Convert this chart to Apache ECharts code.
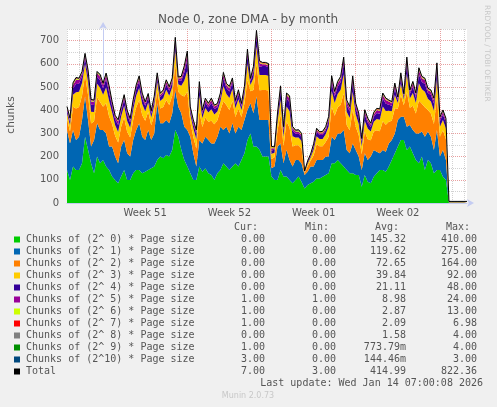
<!DOCTYPE html>
<html><head><meta charset="utf-8">
<script src="https://cdn.jsdelivr.net/npm/echarts@6/dist/echarts.min.js"></script>
<style>html,body{margin:0;padding:0;background:#f0f0f0}#c{width:497px;height:407px}</style>
</head><body><div id="c"></div><script>
// x positions: hours relative to Monday 00:00 of week 51, one sample every 6 hours
const startHour = -72, stepHours = 6;
const weekHours = [84, 252, 420, 588];
const weekLabels = ['Week 51', 'Week 52', 'Week 01', 'Week 02'];
const yTickValues = [0, 100, 200, 300, 400, 500, 600, 700];

const seriesNames = [
  'Chunks of (2^ 0) * Page size','Chunks of (2^ 1) * Page size','Chunks of (2^ 2) * Page size',
  'Chunks of (2^ 3) * Page size','Chunks of (2^ 4) * Page size','Chunks of (2^ 5) * Page size',
  'Chunks of (2^ 6) * Page size','Chunks of (2^ 7) * Page size','Chunks of (2^ 8) * Page size',
  'Chunks of (2^ 9) * Page size','Chunks of (2^10) * Page size'];
const seriesColors = ['#00CC00','#0066B3','#FF8000','#FFCC00','#330099','#990099','#CCFF00','#FF0000','#808080','#008F00','#00487D'];
const curVals = ['0.00','0.00','0.00','0.00','0.00','1.00','1.00','1.00','0.00','1.00','3.00','7.00'];
const minVals = ['0.00','0.00','0.00','0.00','0.00','1.00','0.00','0.00','0.00','0.00','0.00','3.00'];
const avgVals = ['145.32','119.62','72.65','39.84','21.11','8.98','2.87','2.09','1.58','773.79m','144.46m','414.99'];
const maxVals = ['410.00','275.00','164.00','92.00','48.00','24.00','13.00','6.98','4.00','4.00','3.00','822.36'];

const p0 = [142,99,157,142,142,171,286,229,171,128, 200,171,185,157,142,114,99,85,114,142,
  99,99,128,142,142,128,135,142,150,157, 185,200,193,207,200,229,315,286,229,185,
  157,128,99,99,157,135,150,128,121,99, 128,142,171,157,142,157,171,157,185,214,
  272,300,243,243,229,200,200,200,114,99, 99,142,114,114,99,85,99,114,90,63,
  78,85,92,106,106,113,121,128,171,171, 185,171,157,142,128,128,121,121,70,121,
  92,85,113,128,142,142,135,157,185,214, 243,272,272,228,243,214,185,171,200,142,
  185,171,128,142,142,113,99, 0,0,0,0,0,0,0];
const p1 = [173,158,158,130,144,187,173,129,72,144, 144,144,130,143,101,129,101,86,129,130,
  115,101,144,173,202,158,137,173,122,143, 245,144,151,151,144,158,172,129,158,144,
  158,158,115,58,115,122,136,144,136,158, 158,187,144,172,158,187,129,172,130,144,
  129,130,144,216,129,158,158,158,36,58, 144,115,57,115,86,72,86,71,80,58,
  57,72,65,79,79,72,79,72,115,101, 115,129,158,86,86,129,107,79,72,93,
  93,115,115,93,72,86,86,100,87,86, 115,100,100,101,93,101,115,129,108,144,
  123,115,100,173,58,115,86, 0,0,0,0,0,0,0];
const p2 = [47,51,100,135,128,104,93,108,100,80, 112,120,100,130,130,97,90,90,86,97,
  93,82,86,97,100,93,82,78,63,79, 55,63,70,86,78,75,112,64,78,130,
  164,63,71,78,125,71,82,78,97,82, 71,71,124,93,101,97,71,78,56,71,
  130,52,100,142,128,129,129,127,40,40, 71,124,75,123,139,86,64,64,64,7,
  22,26,48,68,60,60,63,86,130,104, 112,124,158,108,100,146,101,93,68,93,
  90,71,80,93,95,124,116,93,82,108, 48,94,49,150,75,104,86,142,120,127,
  93,100,112,144,86,86,90, 0,0,0,0,0,0,0];
const p3 = [25,27,52,70,66,55,48,56,50,40, 58,62,52,68,68,50,46,45,44,50,
  48,42,44,50,52,48,42,40,33,41, 35,33,37,44,40,38,58,33,40,68,
  92,33,37,40,65,37,42,40,50,43, 37,37,64,48,52,50,37,40,29,37,
  68,27,52,74,66,65,65,63,22,20, 37,64,40,64,72,45,33,33,33,4,
  12,13,25,35,31,31,33,44,68,55, 58,64,82,57,52,76,52,48,35,48,
  46,37,42,48,50,64,60,48,42,57, 25,49,25,78,39,55,45,74,62,66,
  48,52,58,75,44,44,46, 0,0,0,0,0,0,0];
const p4 = [13,15,28,36,34,28,25,29,30,30, 30,32,28,36,36,27,25,30,23,27,
  26,23,23,27,28,26,23,22,17,21, 20,17,19,23,22,21,31,17,22,36,
  48,17,19,22,34,19,23,22,27,23, 19,19,34,26,28,27,19,22,15,19,
  36,15,28,39,34,38,38,37,14,12, 19,34,24,34,38,23,17,17,17,2,
  6,7,13,18,17,17,17,23,36,28, 31,34,42,29,28,40,28,26,19,26,
  25,20,22,26,26,34,31,26,23,29, 13,25,13,41,20,28,23,38,32,34,
  25,28,31,40,23,23,25, 0,0,0,0,0,0,0];
const p5 = [8,8,14,18,17,14,13,15,14,15, 15,16,14,18,18,13,12,15,12,13,
  13,11,12,13,14,13,11,11,9,11, 12,9,10,12,11,10,15,9,11,18,
  24,9,10,11,17,10,11,11,13,11, 10,10,16,13,14,13,10,11,8,10,
  18,7,14,19,17,8,8,8,10,7, 10,16,13,16,18,12,9,9,9,1,
  3,4,7,9,8,8,9,12,18,14, 15,16,21,15,14,19,14,13,9,13,
  12,10,11,13,13,16,16,13,11,15, 7,13,7,20,10,14,12,19,16,17,
  13,14,15,19,12,12,12, 1,1,1,1,1,1,1];
const p6 = [3,3,4,4,3,3,2,3,4,3, 3,4,3,3,4,3,2,3,3,3, 2,3,3,3,4,3,2,2,2,3,
  4,3,3,3,2,3,4,2,3,4, 5,2,3,3,4,2,3,3,3,3, 2,3,4,3,3,3,2,3,2,3,
  4,2,3,4,4,3,3,3,5,3, 3,4,3,3,4,3,2,3,3,1, 1,2,2,2,2,3,3,3,4,3,
  3,3,4,3,3,4,3,3,2,3, 3,2,3,3,3,3,3,3,2,3, 2,3,2,4,3,3,3,4,3,3,
  3,3,3,4,3,3,3, 1,1,1,1,1,1,1];
const p7 = [2,2,2,3,2,2,2,2,2,2, 2,2,2,2,3,2,2,2,2,2, 2,2,2,2,3,2,2,2,1,2,
  2,2,2,2,2,2,3,2,2,3, 3,2,2,2,3,2,2,2,2,2, 2,2,3,2,2,2,2,2,2,2,
  3,2,2,3,3,2,2,2,2,2, 2,3,2,2,3,2,2,2,2,1, 1,1,2,2,2,2,2,2,3,2,
  2,2,3,2,2,3,2,2,2,2, 2,2,2,2,2,2,2,2,2,2, 2,2,2,3,2,2,2,3,2,2,
  2,2,2,3,2,2,2, 1,1,1,1,1,1,1];
const p8 = [2,2,2,2,1,2,1,2,2,1, 2,2,1,2,2,1,1,2,1,2, 1,1,2,1,2,2,1,1,1,2,
  2,1,1,2,1,2,2,1,2,2, 2,1,2,1,2,1,2,1,2,1, 1,2,2,1,2,2,1,2,1,2,
  2,1,2,2,2,2,2,2,1,1, 2,2,1,2,2,1,1,2,1,1, 1,1,1,2,1,2,1,2,2,2,
  2,2,2,1,2,2,1,2,1,2, 2,1,2,1,2,2,2,1,2,2, 1,2,1,2,1,2,2,2,2,2,
  2,1,2,2,1,2,1, 0,0,0,0,0,0,0];
const p9 = [1,1,1,1,1,1,1,1,1,1, 1,1,1,1,1,1,0,1,1,1, 1,0,1,1,1,1,1,1,0,1,
  1,1,1,1,1,1,1,0,1,1, 1,1,0,1,1,1,1,1,1,0, 1,1,1,1,1,1,0,1,1,1,
  1,1,1,1,1,1,1,1,0,0, 1,1,0,1,1,1,1,1,1,0, 0,0,0,1,1,1,1,1,1,1,
  1,1,1,1,1,1,1,1,0,1, 1,1,1,1,1,1,1,1,1,1, 1,1,0,1,1,1,1,1,1,1,
  1,1,1,1,0,1,1, 1,1,1,1,1,1,1];
const p10 = [0,0,0,0,0,0,1,0,0,0, 0,0,0,0,0,0,0,0,0,0, 0,0,0,0,0,0,0,0,0,0,
  0,0,0,0,0,0,1,0,0,0, 1,0,0,0,0,0,0,0,0,0, 0,0,0,0,0,0,0,0,0,0,
  0,0,0,1,0,0,0,0,0,0, 0,0,0,0,0,0,0,0,0,0, 0,0,0,0,0,0,0,0,1,0,
  0,0,1,0,0,0,0,0,0,0, 0,0,0,0,0,0,0,0,0,0, 0,0,0,1,0,0,0,0,0,0,
  0,0,0,1,0,0,0, 3,3,3,3,3,3,3];
const layers = [p0,p1,p2,p3,p4,p5,p6,p7,p8,p9,p10];

const N = p0.length;
const hours = Array.from({length: N}, (_, k) => startHour + stepHours * k);
const endHour = hours[N - 1];
const total = hours.map((_, k) => layers.reduce((s, a) => s + (a[k] || 0), 0));
const badLens = layers.map((a, i) => a.length !== N ? ('p' + i + ':' + a.length) : '').filter(Boolean).join(' ');

const red = '#e8a0a0', gray = '#d2d2d2', none = 'rgba(0,0,0,0)';
const xGridColors = [gray,none,gray,none,gray,none,red,none,gray,none,gray,none,gray,none];

const series = layers.map((arr, i) => ({
  name: seriesNames[i], type: 'line', stack: 'all', symbol: 'none', silent: true,
  xAxisIndex: 1,
  lineStyle: {width: 0}, itemStyle: {color: seriesColors[i]},
  areaStyle: {color: seriesColors[i], opacity: 1},
  data: hours.map((h, k) => arr[k] || 0)
}));
series.push({name: 'Total', type: 'line', symbol: 'none', silent: true, z: 5, xAxisIndex: 1,
  lineStyle: {width: 1, color: '#000'}, itemStyle: {color: '#000'},
  data: total});

const mono = '10px "DejaVu Sans Mono"';
const graphic = [];
function txt(x, y, text, font, fill, align, rot) {
  const g = {type:'text', x:x, y:y, style:{text:text, font:font, fill:fill, align:align, verticalAlign:'middle', textAlign:align, textVerticalAlign:'middle'}};
  if (rot) g.rotation = rot;
  graphic.push(g);
}
txt(248, 20, 'Node 0, zone DMA - by month', '12px "DejaVu Sans"', '#555', 'center');
txt(11, 115, 'chunks', '10.5px "DejaVu Sans"', '#555', 'center', Math.PI / 2);
txt(487, 5, 'RRDTOOL / TOBI OETIKER', '7.5px "DejaVu Sans"', '#c8c8c8', 'left', -Math.PI / 2);
const colX = [265, 336, 406, 477];
['Cur:', 'Min:', 'Avg:', 'Max:'].forEach((h, j) => txt(colX[j] - 7, 227, h, mono, '#555', 'right'));
const legendNames = seriesNames.concat(['Total']);
const legendColors = seriesColors.concat(['#000000']);
legendNames.forEach((nm, i) => {
  const y = 239.5 + 12 * i;
  graphic.push({type:'rect', shape:{x:14, y:y-3, width:6, height:6}, style:{fill:legendColors[i]}});
  txt(26, y, nm, mono, '#555', 'left');
  [curVals, minVals, avgVals, maxVals].forEach((col, j) => txt(colX[j], y, col[i], mono, '#555', 'right'));
});
txt(483, 383, 'Last update: Wed Jan 14 07:00:08 2026', mono, '#555', 'right');
txt(248, 396, 'Munin 2.0.73', '8px "DejaVu Sans"', '#c8c8c8', 'center');
if (badLens) txt(70, 10, badLens, '10px "DejaVu Sans"', '#f00', 'left');

const chart = echarts.init(document.getElementById('c'), null, {renderer: 'canvas'});
chart.setOption({
  animation: false,
  backgroundColor: '#f0f0f0',
  grid: {left: 67, top: 29, width: 400, height: 174, backgroundColor: '#ffffff', show: true, borderWidth: 0},
  xAxis: [{
    type: 'value', min: startHour, max: endHour, interval: 12,
    axisLine: {show: true, onZero: false, lineStyle: {color: '#c4ccf2', width: 1}, symbol: ['none', 'arrow'], symbolSize: [6, 7], symbolOffset: [0, 7]},
    axisTick: {show: false},
    axisLabel: {color: '#555', fontFamily: 'DejaVu Sans', fontSize: 10, margin: 5, showMinLabel: true, showMaxLabel: true,
      formatter: v => { const i = weekHours.indexOf(v); return i >= 0 ? weekLabels[i] : ''; }},
    splitLine: {show: true, lineStyle: {color: xGridColors, type: [1, 1], width: 1}}
  }, {
    type: 'category', data: hours, boundaryGap: false, show: false,
    axisLine: {show: false}, axisTick: {show: false}, axisLabel: {show: false}, splitLine: {show: false}
  }],
  yAxis: {
    type: 'value', min: 0, max: 750, interval: 50,
    axisLine: {show: true, lineStyle: {color: '#c4ccf2', width: 1}, symbol: ['none', 'arrow'], symbolSize: [6, 7], symbolOffset: [0, 7]},
    axisTick: {show: false},
    axisLabel: {color: '#555', fontFamily: 'DejaVu Sans', fontSize: 10, margin: 8,
      formatter: v => yTickValues.indexOf(v) >= 0 ? String(v) : ''},
    splitLine: {show: true, lineStyle: {color: [red, gray], type: [1, 1], width: 1}}
  },
  series: series,
  graphic: graphic
});
</script></body></html>
